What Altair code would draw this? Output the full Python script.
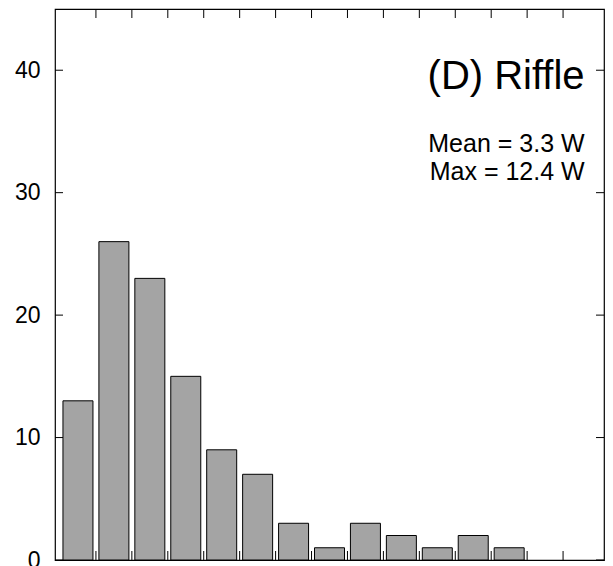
import altair as alt
import pandas as pd

# Data
bin_index = list(range(13))
counts = [13, 26, 23, 15, 9, 7, 3, 1, 3, 2, 1, 2, 1]
n_bins = 15
y_tick_values = [0, 10, 20, 30, 40]
x_tick_values = list(range(1, 15))
panel_title = "(D) Riffle"
stats_lines = ["Mean = 3.3 W", "Max = 12.4 W"]

FONT = "Liberation Sans"
W, H = 549, 551

bars_df = pd.DataFrame({"center": [i + 0.5 for i in bin_index], "count": counts})
xt_df = pd.DataFrame({"x": x_tick_values})
yt_df = pd.DataFrame({"y": y_tick_values})

xscale = alt.Scale(domain=[0, n_bins], nice=False, zero=False)
yscale = alt.Scale(domain=[0, 45], nice=False)
yaxis = alt.Axis(
    values=y_tick_values, ticks=False, domain=False, grid=False,
    labelFont=FONT, labelFontSize=23, labelPadding=15, labelColor="black",
)


def Y(field):
    return alt.Y(field, scale=yscale, axis=yaxis, title=None)


def X(field):
    return alt.X(field, scale=xscale, axis=None)


bars = alt.Chart(bars_df).mark_bar(
    size=30, color="#a4a4a4", stroke="black", strokeWidth=1
).encode(x=X("center:Q"), y=Y("count:Q"))

bottom_ticks = alt.Chart(xt_df).mark_rule(color="black", strokeWidth=1).encode(
    x=X("x:Q"), y=alt.value(H), y2=alt.value(H - 9)
)
top_ticks = alt.Chart(xt_df).mark_rule(color="black", strokeWidth=1).encode(
    x=X("x:Q"), y=alt.value(0), y2=alt.value(9)
)
left_ticks = alt.Chart(yt_df).mark_rule(color="black", strokeWidth=1).encode(
    y=Y("y:Q"), x=alt.value(0), x2=alt.value(8)
)
right_ticks = alt.Chart(yt_df).mark_rule(color="black", strokeWidth=1).encode(
    y=Y("y:Q"), x=alt.value(W), x2=alt.value(W - 8)
)

title_df = pd.DataFrame({"x": [14.6], "y": [38.5], "t": [panel_title]})
stats_df = pd.DataFrame({"x": [14.6, 14.6], "y": [33.3, 31.0], "t": stats_lines})

title_txt = alt.Chart(title_df).mark_text(
    align="right", baseline="alphabetic", font=FONT, fontSize=40, color="black"
).encode(x=X("x:Q"), y=Y("y:Q"), text="t:N")

stats_txt = alt.Chart(stats_df).mark_text(
    align="right", baseline="alphabetic", font=FONT, fontSize=25, color="black"
).encode(x=X("x:Q"), y=Y("y:Q"), text="t:N")

chart = alt.layer(
    bars, bottom_ticks, top_ticks, left_ticks, right_ticks, title_txt, stats_txt
).properties(
    width=W, height=H,
    background="white",
    autosize=alt.AutoSizeParams(type="none"),
    padding={"left": 55, "top": 9, "right": 9, "bottom": 6},
).configure_view(stroke="black", strokeWidth=1.2)

chart.save("out.html", embed_options={"renderer": "svg", "actions": False})
